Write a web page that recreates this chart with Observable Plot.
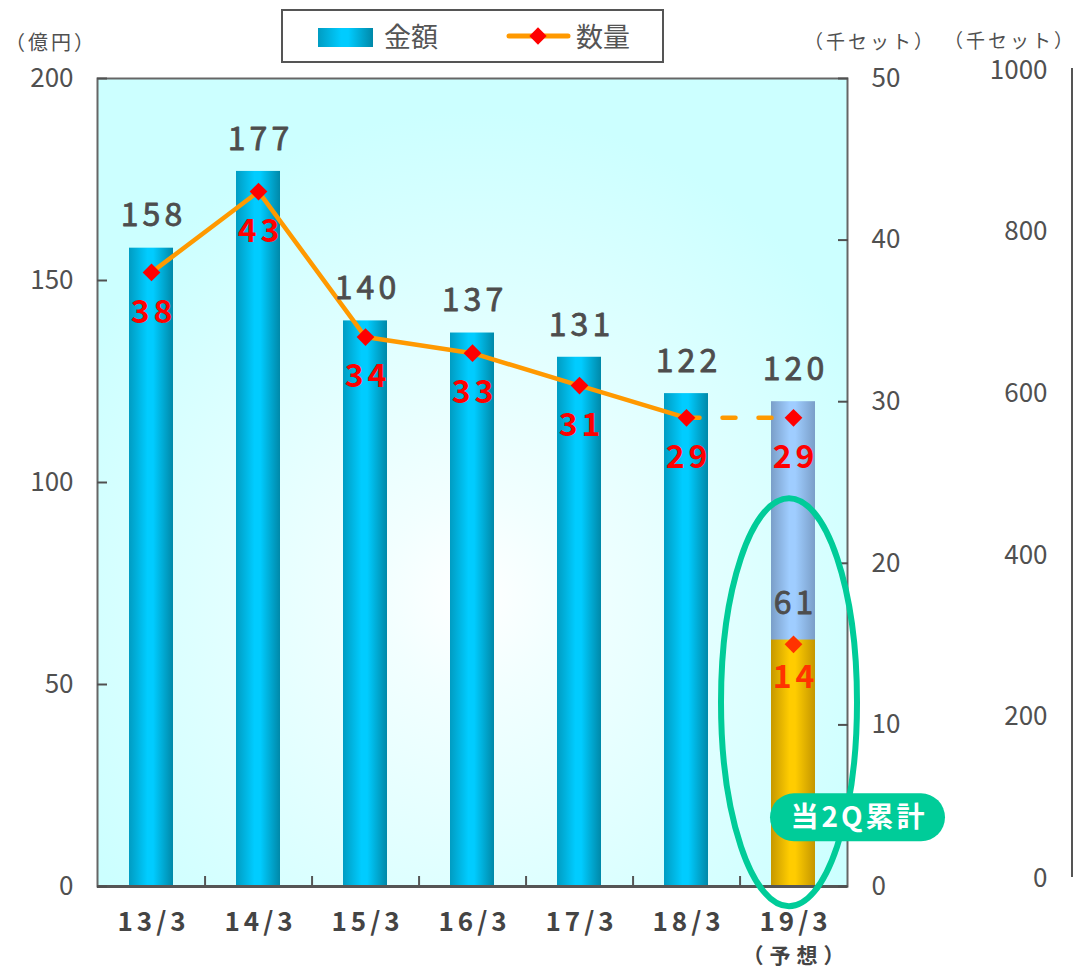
<!DOCTYPE html>
<html><head><meta charset="utf-8">
<script src="https://cdn.jsdelivr.net/npm/d3@7"></script>
<script src="https://cdn.jsdelivr.net/npm/@observablehq/plot@0.6"></script>
<style>
body{margin:0;background:#fff;}
#chart svg{font-family:"Noto Sans CJK JP","Noto Sans",sans-serif;overflow:visible;}
</style></head><body><div id="chart"></div>
<script>
// ---- data ----
const periods = ["13/3","14/3","15/3","16/3","17/3","18/3","19/3"];
const amounts = [158,177,140,137,131,122,120];          // 億円
const quantities = [38,43,34,33,31,29,29];               // 千セット
const forecastNote = "（予想）";
const amount2Q = 61;
const quantity2Q = 14;
const amountTicks = [0,50,100,150,200];
const quantityTicks = [0,10,20,30,40,50];
const thirdTicks = [0,200,400,600,800,1000];
const calloutText = "当2Q累計";
const legendLabels = ["金額","数量"];
const axisTitles = ["（億円）","（千セット）","（千セット）"];

// ---- layout ----
const W = 1074, H = 976, mL = 97, mR = 227, mT = 78, mB = 90;
const QF = 200/50;    // quantity axis -> amount scale
const TF = 200/1000;  // third axis -> amount scale
const step = (W - mL - mR) / periods.length;
const unitPx = (H - mT - mB) / 200;
const font = '"Noto Sans CJK JP","Noto Sans",sans-serif';

const rows = periods.map((p,i)=>({period:p, amount:amounts[i], qty:quantities[i]}));
const actual = rows.slice(0,-1);
const lastTwo = rows.slice(-2);
const fc = rows[rows.length-1];

function defs(){
  const g = d3.create("svg:g");
  const d = g.append("defs");
  const lin = (id, edgeL, mid, edgeR) => {
    const lg = d.append("linearGradient").attr("id", id).attr("x1","0").attr("x2","1").attr("y1","0").attr("y2","0");
    lg.append("stop").attr("offset","0").attr("stop-color",edgeL);
    lg.append("stop").attr("offset","0.42").attr("stop-color",mid);
    lg.append("stop").attr("offset","0.55").attr("stop-color",mid);
    lg.append("stop").attr("offset","1").attr("stop-color",edgeR);
  };
  lin("gBlue","#009cc2","#00ccff","#0088a8");
  lin("gLight","#7a9ec8","#9fcdff","#7a9ec8");
  lin("gGold","#c69800","#ffcc00","#c49600");
  const rg = d.append("radialGradient").attr("id","bgGrad").attr("cx","0.5").attr("cy","0.64").attr("r","0.6");
  rg.append("stop").attr("offset","0").attr("stop-color","#ffffff");
  rg.append("stop").attr("offset","0.2").attr("stop-color","#f2ffff");
  rg.append("stop").attr("offset","1").attr("stop-color","#ccffff");
  return g.node();
}

function legend(){
  const g = d3.create("svg:g").attr("font-family", font).attr("text-anchor","start");
  g.append("rect").attr("x",282).attr("y",10).attr("width",381).attr("height",52)
    .attr("fill","#fff").attr("stroke","#555").attr("stroke-width",2);
  g.append("rect").attr("x",318).attr("y",28).attr("width",55).attr("height",19).attr("fill","url(#gBlue)");
  g.append("text").attr("x",384).attr("y",37).attr("dy","0.36em").attr("font-size",27).attr("fill","#555").text(legendLabels[0]);
  g.append("line").attr("x1",509).attr("x2",568).attr("y1",36).attr("y2",36)
    .attr("stroke","#ff9900").attr("stroke-width",5).attr("stroke-linecap","round");
  g.append("path").attr("d", d3.symbol(d3.symbolDiamond2, 190)()).attr("transform","translate(538,36)").attr("fill","#ff0000");
  g.append("text").attr("x",576).attr("y",37).attr("dy","0.36em").attr("font-size",27).attr("fill","#555").text(legendLabels[1]);
  return g.node();
}

function annotations(index, scales){
  const x = scales.x, y = scales.y;
  const cx = x(fc.period) + x.bandwidth()/2;
  const g = d3.create("svg:g").attr("font-family", font);
  // third axis line
  g.append("line").attr("x1", W-2).attr("x2", W-2).attr("y1", y(200)-10).attr("y2", y(0)-9)
    .attr("stroke","#555").attr("stroke-width",2);
  // ellipse
  g.append("ellipse").attr("cx", cx-4).attr("cy", y(45.5)).attr("rx",68).attr("ry",204)
    .attr("fill","none").attr("stroke","#00cc99").attr("stroke-width",6);
  // callout
  g.append("rect").attr("x", cx-23).attr("y", y(17)-24).attr("width",175).attr("height",48).attr("rx",24)
    .attr("fill","#00cc99");
  g.append("text").attr("x", cx+66).attr("y", y(17)).attr("dy","0.36em").attr("text-anchor","middle")
    .attr("font-size",28).attr("font-weight","bold").attr("letter-spacing",3).attr("fill","#fff").text(calloutText);
  return g.node();
}

const chart = Plot.plot({
  width: W, height: H,
  marginLeft: mL, marginRight: mR, marginTop: mT, marginBottom: mB,
  style: {fontFamily: font, background: "transparent"},
  x: {domain: periods, paddingInner: 0.59, paddingOuter: 0.295, axis: null},
  y: {domain: [0, 200], axis: null},
  marks: [
    defs,
    Plot.frame({fill: "url(#bgGrad)", stroke: null}),
    Plot.barY(actual, {x: "period", y: "amount", fill: "url(#gBlue)"}),
    Plot.barY([fc], {x: "period", y: "amount", fill: "url(#gLight)"}),
    Plot.barY([fc], {x: "period", y: () => amount2Q, fill: "url(#gGold)"}),
    Plot.frame({stroke: "#666", strokeWidth: 2}),
    Plot.ruleY([0], {stroke: "#555", strokeWidth: 3}),
    Plot.ruleX(periods.slice(0, -1), {x: d => d, dx: step/2, y1: 0, y2: 10/unitPx, stroke: "#555", strokeWidth: 2}),
    // axes
    Plot.axisY(amountTicks, {anchor: "left", tickSize: 10, dx: 10, tickPadding: 24, fontSize: 26, color: "#505050", strokeWidth: 2, label: null}),
    Plot.axisY(quantityTicks.map(q => q*QF), {anchor: "right", tickSize: 10, dx: -10, tickPadding: 24, tickFormat: d => d/QF, fontSize: 26, color: "#505050", strokeWidth: 2, label: null}),
    Plot.text(thirdTicks, {y: d => d*TF, text: d => String(d), frameAnchor: "right", dx: 200, dy: -8, textAnchor: "end", fontSize: 26, fill: "#505050"}),
    Plot.text([axisTitles[0]], {frameAnchor: "top-left", dx: -48, dy: -43, textAnchor: "middle", fontSize: 20, fill: "#505050", ariaDescription: "sp-title"}),
    Plot.text([axisTitles[1]], {frameAnchor: "top-right", dx: 21, dy: -43, textAnchor: "middle", fontSize: 19, fill: "#505050", ariaDescription: "sp-title"}),
    Plot.text([axisTitles[2]], {frameAnchor: "top-right", dx: 161, dy: -44, textAnchor: "middle", fontSize: 19, fill: "#505050", ariaDescription: "sp-title"}),
    Plot.text(periods, {x: d => d, frameAnchor: "bottom", dy: 44, fontSize: 26, fontWeight: "bold", fill: "#444", ariaDescription: "sp-x"}),
    Plot.text([forecastNote], {x: () => fc.period, frameAnchor: "bottom", dy: 76, fontSize: 21, fontWeight: "bold", fill: "#444", ariaDescription: "sp-note"}),
    // lines
    Plot.line(actual, {x: "period", y: d => d.qty*QF, stroke: "#ff9900", strokeWidth: 4.5}),
    Plot.line(lastTwo, {x: "period", y: d => d.qty*QF, stroke: "#ff9900", strokeWidth: 4.5, strokeDasharray: "13,23"}),
    // annotations (ellipse, callout, third axis line)
    annotations,
    Plot.dot(rows, {x: "period", y: d => d.qty*QF, symbol: "diamond2", r: 8, fill: "#ff0000", stroke: null}),
    Plot.dot([fc], {x: "period", y: () => quantity2Q*QF, dy: -16, symbol: "diamond2", r: 8, fill: "#ff3300", stroke: null}),
    // labels
    Plot.text(rows, {x: "period", y: "amount", text: d => String(d.amount), dy: -32, fontSize: 32, fill: "#4d4d4d", stroke: "#4d4d4d", strokeWidth: 0.8, ariaDescription: "sp-val"}),
    Plot.text([fc], {x: "period", y: () => amount2Q, text: () => String(amount2Q), dy: -36, fontSize: 32, fill: "#4d4d4d", stroke: "#4d4d4d", strokeWidth: 0.8, ariaDescription: "sp-val"}),
    Plot.text(rows, {x: "period", y: d => d.qty*QF, text: d => String(d.qty), dy: 40, fontSize: 32, fontWeight: "bold", fill: "#ff0000", ariaDescription: "sp-val"}),
    Plot.text([fc], {x: "period", y: () => quantity2Q*QF, text: () => String(quantity2Q), dy: 17, fontSize: 32, fontWeight: "bold", fill: "#ff3300", ariaDescription: "sp-val"}),
    legend
  ]
});
// letter spacing (typographic style)
const spacing = {"sp-val": 4, "sp-x": 4, "sp-title": 3, "sp-note": 6};
for (const [k, v] of Object.entries(spacing)) {
  d3.select(chart).selectAll(`g[aria-description="${k}"] text`)
    .style("letter-spacing", v + "px")
    .attr("dx", function(){ return (parseFloat(this.getAttribute("dx")||0) + v/2); });
}
document.getElementById("chart").appendChild(chart);
</script></body></html>
